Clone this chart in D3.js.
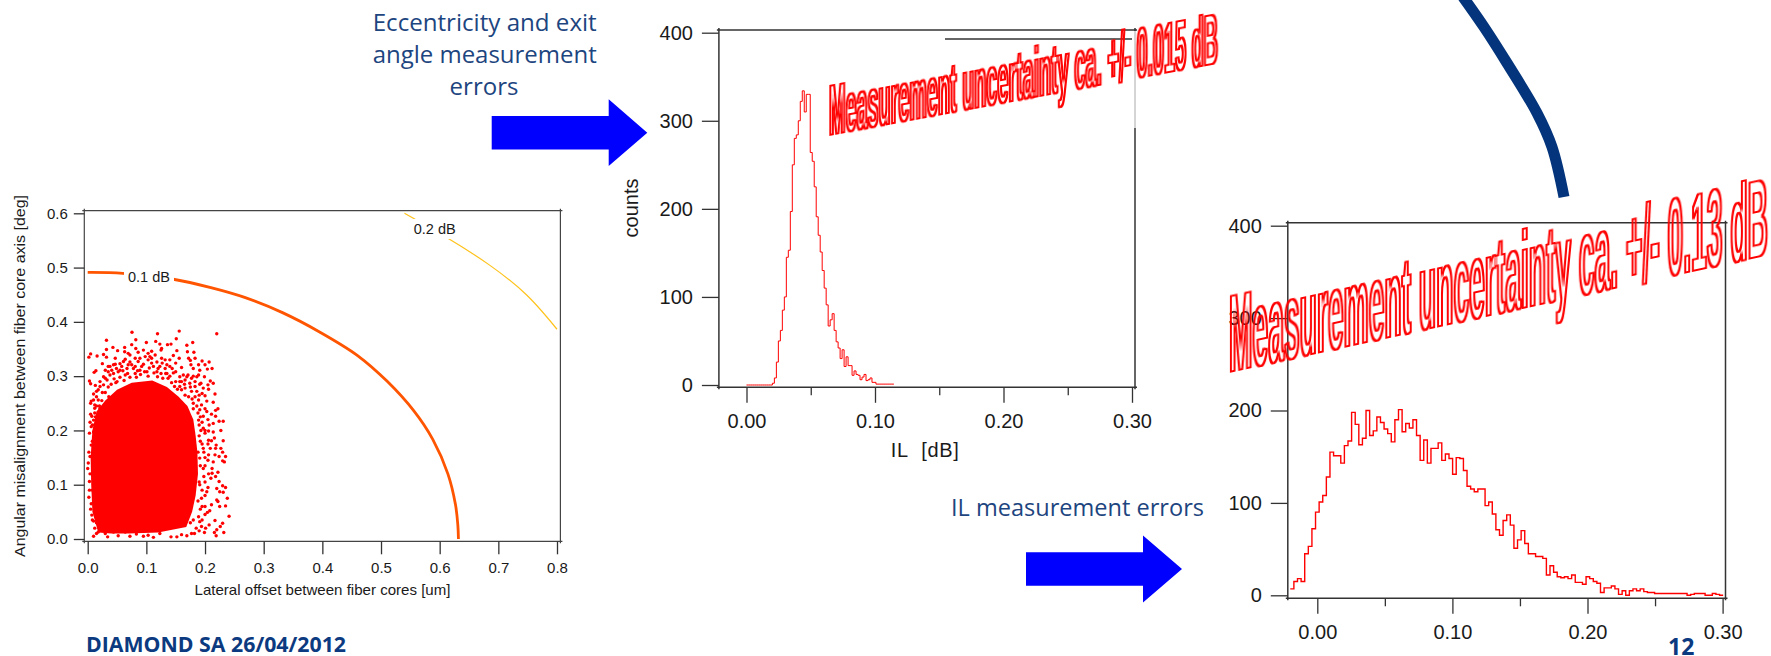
<!DOCTYPE html>
<html>
<head>
<meta charset="utf-8">
<style>
  html, body { margin: 0; padding: 0; background: #fff; }
  svg { display: block; font-family: "Liberation Sans", Arial, sans-serif; }
  .note { font-family: "Open Sans", sans-serif; fill: #1d4580; }
  .brand { font-family: "Open Sans", sans-serif; font-weight: 700; fill: #0b3a80; }
  .wordart { font-family: "Liberation Sans", Arial, sans-serif; font-weight: 700; fill: #ff0000; }
</style>
</head>
<body>
<svg width="1771" height="656"></svg>
<script src="https://d3js.org/d3.v7.min.js"></script>
<script>

  // left plot: contour lines, dB levels
  var contour01 = [[0, .491], [.06, .4895], [.146, .4785], [.21, .463], [.2675, .445], [.332, .417], [.396, .381],
    [.46, .338], [.511, .29], [.556, .236], [.588, .184], [.614, .12], [.627, .063], [.631, .025], [.632, 0]];
  var contour02 = [[.54, .6], [.614, .554], [.6845, .505], [.7487, .449], [.8, .3864]];

  // left plot: outline of the area where the dots merge into solid red
  var scatterCore = [[.018, .012], [.008, .05], [.006, .1], [.005, .15], [.008, .2], [.015, .235], [.03, .255],
    [.05, .275], [.075, .288], [.11, .292], [.135, .28], [.155, .262], [.17, .245], [.18, .22], [.184, .19],
    [.187, .16], [.188, .12], [.184, .08], [.178, .05], [.168, .022], [.12, .012], [.07, .01], [.04, .01]];

  // left plot: dots that can be told apart
  var scatterPoints = [[.0755, .381], [.119, .378], [.156, .383], [.220, .378], [.032, .366], [.082, .367], [.151, .369],
    [.100, .362], [.116, .364], [.179, .362], [.075, .358], [.123, .359], [.136, .358], [.142, .359], [.169, .357],
    [.043, .353], [.063, .353], [.032, .349], [.051, .347], [.082, .351], [.126, .351], [.152, .347], [.170, .345],
    [.181, .344], [.005, .341], [.027, .340], [.002, .335], [.016, .337], [.032, .335], [.063, .345], [.069, .342],
    [.086, .344], [.103, .342], [.109, .346], [.125, .348], [.146, .338], [.156, .333], [.172, .333], [.183, .333],
    [.064, .331], [.089, .333], [.132, .330], [.195, .328], [.207, .326], [.175, .329], [.025, .323], [.055, .323],
    [.072, .326], [.103, .330], [.118, .326], [.150, .324], [.176, .321], [.189, .321], [.200, .321], [.035, .318],
    [.044, .321], [.081, .318], [.160, .316], [.180, .314], [.191, .311], [.204, .313], [.212, .314], [.014, .310],
    [.011, .307], [.055, .311], [.089, .311], [.135, .305], [.146, .306], [.189, .302], [.199, .299], [.157, .299],
    [.169, .299], [.038, .302], [.003, .291], [.005, .286], [.013, .283], [.021, .290], [.033, .293], [.193, .287],
    [.209, .291], [.214, .287], [.205, .284], [.183, .290], [.206, .276], [.197, .278], [.010, .267], [.217, .267],
    [.186, .272], [.195, .268], [.200, .264], [.183, .262], [.006, .254], [.005, .250], [.012, .247], [.203, .254],
    [.214, .252], [.222, .240], [.218, .237], [.194, .247], [.211, .230], [.218, .226], [.224, .217], [.231, .217],
    [.214, .213], [.207, .210], [.004, .215], [.008, .210], [.006, .207], [.010, .197], [.206, .199], [.214, .197],
    [.227, .200], [.197, .204], [.231, .181], [.216, .186], [.211, .181], [.219, .173], [.218, .167], [.227, .167],
    [.230, .160], [.235, .152], [.224, .152], [.230, .144], [.233, .142], [.209, .167], [.206, .155], [.214, .142],
    [.212, .130], [.222, .123], [.218, .115], [.210, .112], [.224, .106], [.003, .106], [.002, .077], [.005, .055],
    [.230, .098], [.235, .095], [.220, .093], [.225, .087], [.231, .086], [.238, .075], [.220, .072], [.222, .069],
    [.225, .060], [.235, .061], [.211, .063], [.208, .052], [.204, .049], [.241, .042], [.217, .034], [.230, .029],
    [.207, .026], [.226, .023], [.220, .017], [.216, .012], [.232, .012], [.219, .006], [.199, .012], [.191, .032],
    [.201, .020], [.182, .010], [.169, .006], [.152, .004], [.142, .004], [.112, .003], [.095, .005], [.072, .005],
    [.052, .006], [.034, .004], [.010, .005], [.015, .010], [.007, .044], [.010, .033], [.018, .013], [.030, .010],
    [.044, .013], [.064, .013], [.083, .009], [.103, .007], [.123, .010], [.160, .008], [.177, .010], [.194, .023],
    [.189, .041], [.200, .060], [.194, .075], [.203, .087], [.191, .100], [.212, .121], [.197, .130], [.217, .155],
    [.191, .149], [.197, .167], [.206, .182], [0, .130], [.004, .152], [.006, .173],
    [.041, .311], [.049, .314], [.058, .318], [.067, .314], [.075, .321], [.095, .322], [.109, .324], [.123, .318],
    [.140, .318], [.030, .296], [.044, .305], [.064, .302], [.081, .305], [.101, .308], [.118, .308], [.132, .314],
    [.157, .290], [.166, .293], [.174, .287], [.137, .296], [.027, .284], [.018, .275], [.015, .262], [.166, .278],
    [.177, .272], [.180, .250], [.189, .256], [.191, .238], [.203, .235], [.189, .219], [.197, .226], [.012, .232],
    [.021, .241], [.007, .226], [.010, .219], [.19, .19], [.195, .175], [.188, .16], [.2, .15], [.192, .135],
    [.198, .115], [.19, .105], [.195, .09], [.188, .07], [.192, .055], [.18, .035], [.185, .02], [.175, .03],
    [.01, .17], [.008, .12], [.012, .1], [.008, .09], [.012, .07], [.015, .03], [.02, .02], [.025, .025], [.008, .18],
    [.012, .2],
    [.038, .318], [.047, .322], [.052, .308], [.061, .327], [.069, .321], [.078, .314], [.086, .327], [.092, .318],
    [.098, .336], [.106, .336], [.112, .318], [.120, .314], [.127, .324], [.140, .330], [.144, .314], [.150, .308],
    [.163, .302], [.157, .281], [.171, .302], [.177, .296], [.183, .281], [.191, .285], [.186, .299], [.035, .308],
    [.027, .299], [.021, .281], [.015, .272], [.010, .256], [.018, .256], [.012, .241], [.030, .311], [.047, .333],
    [.095, .348], [.081, .333], [.072, .339], [.109, .333], [.115, .339], [.135, .321], [.126, .333],
    [.192, .18], [.2, .195], [.205, .175], [.198, .16], [.205, .145], [.2, .135], [.206, .12], [.2, .105], [.205, .095],
    [.2, .08], [.195, .06], [.2, .045], [.195, .035], [.19, .015], [.2, .2], [.195, .215], [.205, .22], [.2, .24],
    [.19, .265], [.175, .28], [.165, .285], [.18, .3], [.15, .29], [.14, .3], [.125, .305], [.105, .315], [.085, .31],
    [.06, .31], [.045, .295], [.035, .28], [.025, .27], [.015, .245], [.005, .23], [.003, .195], [.002, .16],
    [.001, .14], [.004, .12], [.003, .09], [.006, .065], [.008, .035], [.012, .02],
    [.04, .285], [.048, .288], [.055, .298], [.062, .292], [.068, .305], [.072, .298], [.083, .298], [.09, .303],
    [.097, .308], [.103, .30], [.113, .306], [.119, .299], [.128, .296], [.133, .305], [.143, .288], [.148, .281],
    [.153, .276], [.16, .275], [.166, .265], [.172, .262], [.178, .258], [.18, .24], [.186, .245], [.188, .232],
    [.192, .225], [.19, .21], [.193, .2], [.036, .262], [.03, .27], [.024, .255], [.02, .245], [.013, .225],
    [.012, .21], [.05, .29], [.16, .29]];

  // middle histogram, counts per bin
  var narrowStart = 0, narrowBin = 0.00155;
  var narrowCounts = [0, 0, 0, 0, 0, 0, 0, 0, 0, 0, 0, 0, 0, 2, 8, 26, 50, 62, 85, 100, 145, 153, 197, 250, 280, 284, 300,
    322, 334, 310, 330, 330, 264, 254, 225, 191, 170, 151, 130, 110, 91, 67, 74, 81, 62, 49, 42, 30, 40, 21, 32, 22, 22,
    11, 16, 12, 11, 6, 9, 12, 5, 6, 8, 3, 3, 1, 1, 1, 1, 1, 1, 1, 1, 1];

  // right histogram, counts per bin
  var wideStart = -0.02, wideBin = 0.00267;
  var wideCounts = [7, 15, 18, 15, 45, 53, 72, 90, 101, 108, 128, 155, 151, 151, 143, 162, 167, 198, 185, 163,
    170, 200, 173, 178, 193, 187, 180, 175, 166, 190, 201, 177, 186, 181, 190, 173, 146, 168, 143, 159,
    159, 165, 146, 153, 148, 131, 149, 148, 135, 118, 115, 112, 115, 115, 97, 101, 88, 71, 65, 81,
    87, 76, 51, 60, 70, 56, 45, 45, 42, 42, 40, 22, 32, 25, 20, 19, 20, 18, 22, 14,
    14, 12, 20, 18, 15, 13, 3, 8, 8, 10, 7, 1, 5, 0, 5, 7, 5, 7, 4, 3,
    3, 2, 2, 2, 2, 2, 2, 2, 2, 2, 0, 1, 2, 2, 2, 0, 0, 2, 1, 0];

  var offsetTicks = [0, .1, .2, .3, .4, .5, .6, .7, .8];
  var angleTicks = [0, .1, .2, .3, .4, .5, .6];
  var countTicks = [0, 100, 200, 300, 400];
  var ilTicks = [0, .05, .1, .15, .2, .25, .3];

  // the hand drawn connector, top right
  var connector = [[1463, -3], [1484, 27], [1507, 63], [1537, 113], [1552, 147], [1564, 197]];

  var svg = d3.select("svg");

  // hollow letters: a plain stroke gets squashed by the condensed glyphs, a filter band does not
  var outline = svg.append("defs").append("filter").attr("id", "outline")
    .attr("x", "-5%").attr("y", "-60%").attr("width", "110%").attr("height", "220%")
    .attr("color-interpolation-filters", "sRGB");
  outline.append("feMorphology").attr("in", "SourceAlpha").attr("operator", "dilate").attr("radius", 1).attr("result", "fat");
  outline.append("feMorphology").attr("in", "SourceAlpha").attr("operator", "erode").attr("radius", 0.6).attr("result", "thin");
  outline.append("feComposite").attr("in", "fat").attr("in2", "thin").attr("operator", "out").attr("result", "band");
  outline.append("feFlood").attr("flood-color", "#ff0000").attr("result", "red");
  outline.append("feComposite").attr("in", "red").attr("in2", "band").attr("operator", "in");

  function drawBox(x0, x1, y0, y1, width, color) {
    var o = 2;
    [[x0, y0 - o, x0, y1 + o], [x1, y0 - o, x1, y1 + o], [x0 - o, y0, x1 + o, y0], [x0 - o, y1, x1 + o, y1]].forEach(function (l) {
      svg.append("line").attr("x1", l[0]).attr("y1", l[1]).attr("x2", l[2]).attr("y2", l[3])
        .attr("stroke", color).attr("stroke-width", width);
    });
  }

  function styleAxis(g, fontSize, color) {
    g.attr("font-size", fontSize).attr("font-family", null);
    g.select(".domain").remove();
    g.selectAll("line").attr("stroke", color).attr("stroke-width", 1.3);
    g.selectAll("text").attr("fill", "#1a1a1a");
  }

  // outlined text, letters stay upright while the baseline climbs
  function wordart(text, x, y, angle, len, size) {
    svg.append("text").attr("class", "wordart")
      .attr("transform", "translate(" + x + "," + y + ") skewY(" + angle + ")")
      .attr("font-size", size)
      .attr("textLength", len)
      .attr("lengthAdjust", "spacingAndGlyphs")
      .attr("filter", "url(#outline)")
      .text(text);
  }

  function blueArrow(x0, x1, neck, yMid) {
    var pts = [[x0, yMid - 16.7], [neck, yMid - 16.7], [neck, yMid - 33.4], [x1, yMid], [neck, yMid + 33.4], [neck, yMid + 16.7], [x0, yMid + 16.7]];
    svg.append("polygon").attr("points", pts.join(" ")).attr("fill", "#0000ff");
  }

  // left plot
  (function () {
    var x = d3.scaleLinear().domain([0, .8]).range([87.7, 557]),
      y = d3.scaleLinear().domain([0, .6]).range([539, 213.3]);

    var line = d3.line().x(function (d) { return x(d[0]); }).y(function (d) { return y(d[1]); });

    drawBox(84.3, 560.4, 210.7, 541.3, 1.2, "#444");

    svg.append("g").attr("transform", "translate(0,541.3)")
      .call(d3.axisBottom(x).tickValues(offsetTicks).tickSize(13).tickPadding(8).tickFormat(d3.format(".1f")))
      .call(styleAxis, 15, "#333");
    svg.append("g").attr("transform", "translate(84.3,0)")
      .call(d3.axisLeft(y).tickValues(angleTicks).tickSize(10.5).tickPadding(6).tickFormat(d3.format(".1f")))
      .call(styleAxis, 15, "#333");

    svg.append("path").attr("d", line.curve(d3.curveCatmullRom.alpha(0.5))(contour01))
      .attr("fill", "none").attr("stroke", "#ff5500").attr("stroke-width", 2.8);
    svg.append("path").attr("d", line.curve(d3.curveNatural)(contour02))
      .attr("fill", "none").attr("stroke", "#ffc21a").attr("stroke-width", 1.2);

    svg.append("path").attr("d", line.curve(d3.curveLinearClosed)(scatterCore)).attr("fill", "#ff0000");
    svg.append("g").selectAll("circle").data(scatterPoints).enter().append("circle")
      .attr("cx", function (d) { return x(d[0]); })
      .attr("cy", function (d) { return y(d[1]); })
      .attr("r", 1.7)
      .attr("fill", "#ff0000");

    // labels sit on a white patch that cuts the contour
    [["0.1 dB", 149, 277], ["0.2 dB", 434.7, 229]].forEach(function (l) {
      svg.append("rect").attr("x", l[1] - 25).attr("y", l[2] - 10).attr("width", 50).attr("height", 20).attr("fill", "#fff");
      svg.append("text").attr("x", l[1]).attr("y", l[2]).attr("dy", "0.36em").attr("text-anchor", "middle")
        .attr("font-size", 14.5).attr("fill", "#1a1a1a").text(l[0]);
    });

    svg.append("text").attr("x", 322.5).attr("y", 595).attr("text-anchor", "middle").attr("font-size", 14.5)
      .attr("fill", "#1a1a1a").attr("textLength", 256).attr("lengthAdjust", "spacingAndGlyphs")
      .text("Lateral offset between fiber cores [um]");
    svg.append("text").attr("transform", "translate(25,376) rotate(-90)").attr("text-anchor", "middle").attr("font-size", 14.5)
      .attr("fill", "#1a1a1a").attr("textLength", 362).attr("lengthAdjust", "spacingAndGlyphs")
      .text("Angular misalignment between fiber core axis [deg]");
  })();

  // shared histogram drawing, bins as steps
  function histogram(counts, start, bin, box, xr, yr, lineWidth) {
    var x = d3.scaleLinear().domain([0, .3]).range(xr),
      y = d3.scaleLinear().domain([0, 400]).range(yr);

    var steps = counts.map(function (c, i) { return [start + i * bin, c]; });
    steps.push([start + counts.length * bin, counts[counts.length - 1]]);

    var xAxis = svg.append("g").attr("transform", "translate(0," + box[3] + ")")
      .call(d3.axisBottom(x).tickValues(ilTicks).tickSize(15.5).tickPadding(11)
        .tickFormat(function (d) { return Math.round(d * 100) % 10 === 0 ? d3.format(".2f")(d) : ""; }))
      .call(styleAxis, 20, "#333");
    xAxis.selectAll(".tick line").attr("y2", function (d) { return Math.round(d * 100) % 10 === 0 ? 15.5 : 8; });

    svg.append("g").attr("transform", "translate(" + box[0] + ",0)")
      .call(d3.axisLeft(y).tickValues(countTicks).tickSize(17).tickPadding(9))
      .call(styleAxis, 20, "#333");

    svg.append("path")
      .attr("d", d3.line().curve(d3.curveStepAfter)
        .x(function (d) { return x(d[0]); })
        .y(function (d) { return y(d[1]); })(steps))
      .attr("fill", "none").attr("stroke", "#ff0000").attr("stroke-width", lineWidth);
  }

  // middle plot
  drawBox(718.9, 1135, 30, 387.3, 1.5, "#333");
  svg.append("line").attr("x1", 1135).attr("x2", 1135).attr("y1", 31).attr("y2", 128).attr("stroke", "#fff").attr("stroke-width", 2.5);
  svg.append("line").attr("x1", 1135).attr("x2", 1135).attr("y1", 31).attr("y2", 128).attr("stroke", "#aaa").attr("stroke-width", 1);
  svg.append("line").attr("x1", 945).attr("x2", 1132).attr("y1", 39).attr("y2", 39).attr("stroke", "#333").attr("stroke-width", 1.5);
  histogram(narrowCounts, narrowStart, narrowBin, [718.9, 1135, 30, 387.3], [746.5, 1132], [385, 32.7], 1);
  svg.append("text").attr("x", 924.8).attr("y", 457).attr("text-anchor", "middle").attr("font-size", 20)
    .attr("fill", "#1a1a1a").attr("textLength", 68).attr("lengthAdjust", "spacing").text("IL\u00a0 [dB]");
  svg.append("text").attr("transform", "translate(638,208) rotate(-90)").attr("text-anchor", "middle").attr("font-size", 20)
    .attr("fill", "#1a1a1a").text("counts");

  // right plot
  drawBox(1287.8, 1725.5, 222.7, 598.3, 1.5, "#333");
  histogram(wideCounts, wideStart, wideBin, [1287.8, 1725.5, 222.7, 598.3], [1317.3, 1722.6], [595.3, 225.7], 1.4);

  wordart("Measurement uncertainty ca. +/- 0.015 dB", 829, 135, -10.5, 389, 70);
  wordart("Measurement uncertainty ca. +/- 0.13 dB", 1229, 372, -12.3, 539, 109);

  // connector
  svg.append("path")
    .attr("d", d3.line().curve(d3.curveCatmullRom)(connector))
    .attr("fill", "none").attr("stroke", "#04357c").attr("stroke-width", 11);

  // arrows and notes
  blueArrow(491.7, 647.3, 608.7, 132.7);
  blueArrow(1026, 1182, 1143, 569);

  var note = svg.append("text").attr("class", "note").attr("font-size", 24).attr("text-anchor", "middle");
  note.append("tspan").attr("x", 484.7).attr("y", 31).attr("textLength", 224).attr("lengthAdjust", "spacingAndGlyphs").text("Eccentricity and exit");
  note.append("tspan").attr("x", 484.7).attr("y", 63).attr("textLength", 224).attr("lengthAdjust", "spacingAndGlyphs").text("angle measurement");
  note.append("tspan").attr("x", 484).attr("y", 95).text("errors");
  svg.append("text").attr("class", "note").attr("x", 1077.5).attr("y", 516).attr("font-size", 24).attr("text-anchor", "middle")
    .attr("textLength", 253).attr("lengthAdjust", "spacingAndGlyphs").text("IL measurement errors");

  svg.append("text").attr("class", "brand").attr("x", 86).attr("y", 652).attr("font-size", 21)
    .attr("textLength", 260).attr("lengthAdjust", "spacingAndGlyphs").text("DIAMOND SA 26/04/2012");
  svg.append("text").attr("class", "brand").attr("x", 1668).attr("y", 655).attr("font-size", 23).text("12");

</script>
</body>
</html>
